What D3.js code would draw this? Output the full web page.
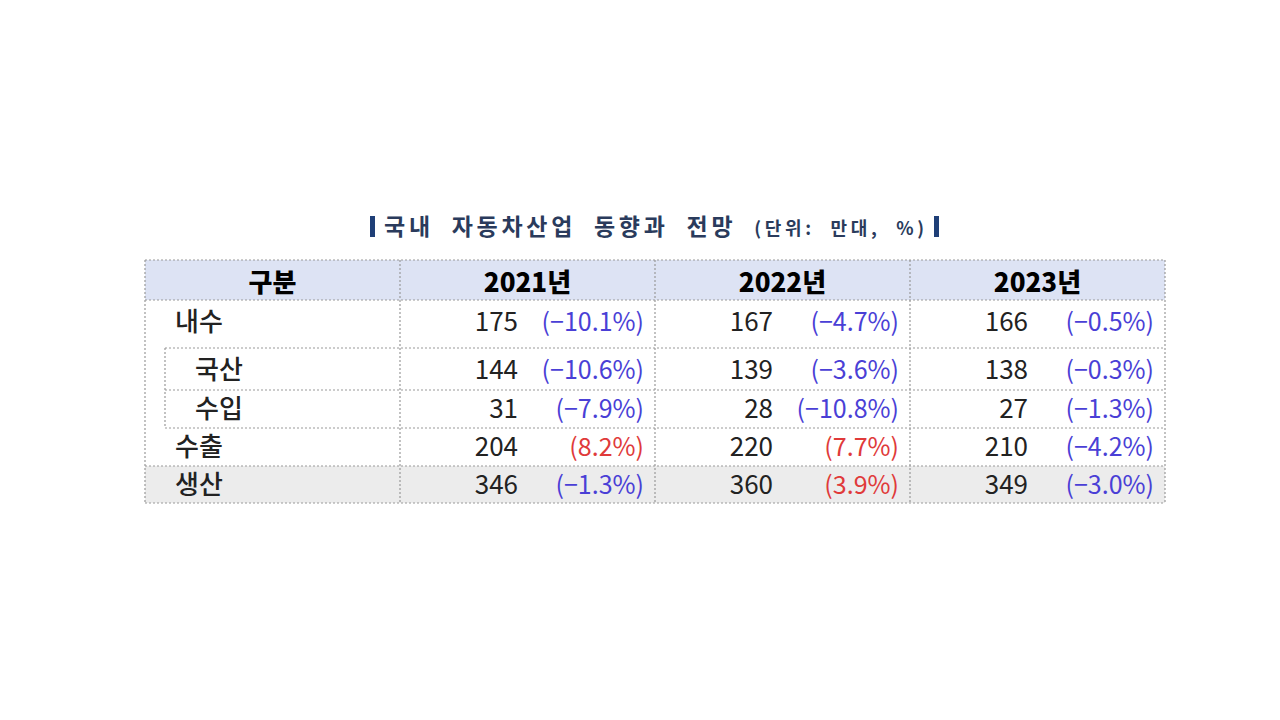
<!DOCTYPE html><html><head><meta charset="utf-8"><script src="https://cdn.jsdelivr.net/npm/d3@7"></script>
<style>body{margin:0;background:#fff}</style></head><body><svg width="1280" height="720"></svg><script>
const title="국내  자동차산업  동향과  전망";
const unit="(단위:  만대,  %)";
const years=["2021년","2022년","2023년"];
const rows=["내수","국산","수입","수출","생산"];
const values=[[175,167,166],[144,139,138],[31,28,27],[204,220,210],[346,360,349]];
const changes=[[-10.1,-4.7,-0.5],[-10.6,-3.6,-0.3],[-7.9,-10.8,-1.3],[8.2,7.7,-4.2],[-1.3,3.9,-3.0]];
const svg=d3.select("svg");
const F="'Noto Sans CJK KR','Noto Sans',sans-serif";
const x=d3.scaleLinear().domain([0,4]).range([145,1165]);
const yEdges=[260,300,348,390,428,466,503];
// title
const t=svg.append("text").attr("x",384).attr("y",235).attr("font-family",F).attr("fill","#2a3b5c").attr("font-weight","bold").attr("xml:space","preserve").style("white-space","pre").attr("textLength",540).attr("lengthAdjust","spacing");
t.append("tspan").attr("font-size",23).text(title+"  ");
t.append("tspan").attr("font-size",18).text(unit);
svg.append("rect").attr("x",370).attr("y",216).attr("width",5).attr("height",21).attr("fill","#1f3f77");
svg.append("rect").attr("x",934).attr("y",216).attr("width",5).attr("height",21).attr("fill","#1f3f77");
// backgrounds
svg.append("rect").attr("x",x(0)).attr("y",yEdges[0]).attr("width",x(4)-x(0)).attr("height",yEdges[1]-yEdges[0]).attr("fill","#dde3f4");
svg.append("rect").attr("x",x(0)).attr("y",yEdges[5]).attr("width",x(4)-x(0)).attr("height",yEdges[6]-yEdges[5]).attr("fill","#ececec");
const dot={stroke:"#999","stroke-dasharray":"2,2","stroke-width":1.2};
function line(x1,y1,x2,y2){const l=svg.append("line").attr("x1",x1).attr("y1",y1).attr("x2",x2).attr("y2",y2);for(const k in dot)l.attr(k,dot[k]);}
[0,1,5,6].forEach(i=>line(x(0),yEdges[i],x(4),yEdges[i]));
[2,3,4].forEach(i=>line(165,yEdges[i],x(4),yEdges[i]));
line(165,yEdges[2],165,yEdges[4]);
[0,1,2,3,4].forEach(i=>line(x(i),yEdges[0],x(i),yEdges[6]));
// header
svg.append("text").attr("x",(x(0)+x(1))/2).attr("y",292).attr("text-anchor","middle").attr("font-family",F).attr("font-weight","900").attr("font-size",26).text("구분");
years.forEach((yv,i)=>svg.append("text").attr("x",(x(i+1)+x(i+2))/2).attr("y",292).attr("text-anchor","middle").attr("font-family",F).attr("font-weight","900").attr("font-size",26).text(yv));
const rowY=[321,369,408,446,484];
const indent=[175,195,195,175,175];
rows.forEach((r,ri)=>{
 svg.append("text").attr("x",indent[ri]).attr("y",rowY[ri]+10).attr("font-family",F).attr("font-size",26).attr("font-weight","500").attr("fill","#222").text(r);
 for(let c=0;c<3;c++){
  svg.append("text").attr("x",x(c+1)+118).attr("y",rowY[ri]+10).attr("text-anchor","end").attr("font-family",F).attr("font-size",26).attr("fill","#222").text(values[ri][c]);
  const v=changes[ri][c];
  svg.append("text").attr("x",x(c+1)+244).attr("y",rowY[ri]+10).attr("text-anchor","end").attr("font-family",F).attr("font-size",25).attr("fill",v>0?"#e03a3a":"#4a3fd6").text("("+(v<0?"−":"")+Math.abs(v).toFixed(1)+"%)");
 }
});
</script></body></html>
